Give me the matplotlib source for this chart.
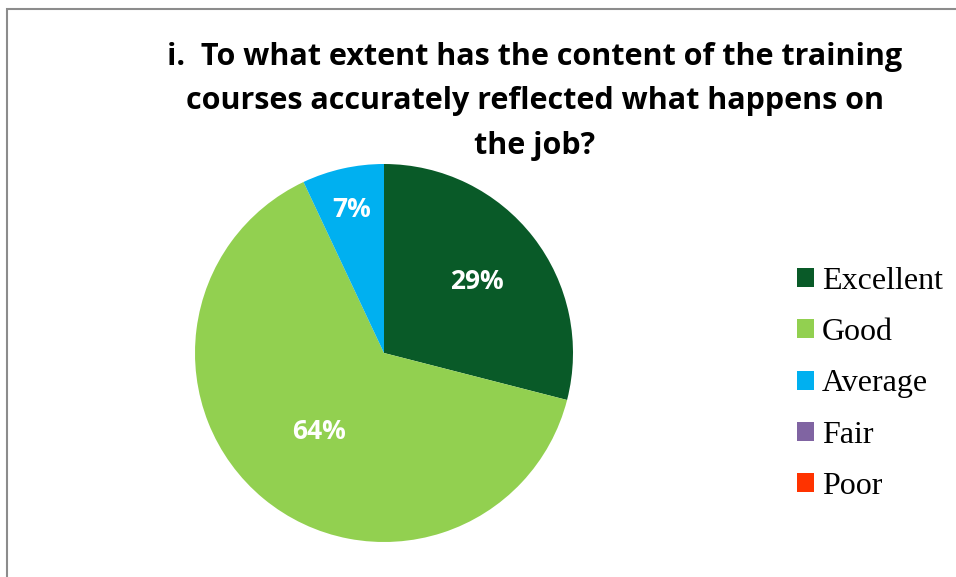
import numpy as np
import matplotlib.pyplot as plt
from matplotlib.patches import Rectangle

# --- Data ---
categories = ["Excellent", "Good", "Average", "Fair", "Poor"]
shares = [29, 64, 7, 0, 0]
colors = ["#095a28", "#92d050", "#00b0f0", "#8064a2", "#ff3300"]
# radial position of each percentage label (fraction of radius)
label_radius = [0.62, 0.54, 0.78, 0.6, 0.6]
title = ("i.  To what extent has the content of the training\n"
         "courses accurately reflected what happens on\n"
         "the job?")

W, H = 956, 577
fig = plt.figure(figsize=(W / 100, H / 100), dpi=100)

# outer chart frame (runs off the right/bottom edge like the source)
fig.patches.append(Rectangle((7 / W, -0.1), 1.2, (H - 9) / H + 0.1,
                             transform=fig.transFigure, fill=False,
                             edgecolor="#8c8c8c", linewidth=1.5))

# pie: centre (384, 353) px, radius ~189 px
r = 189
ax = fig.add_axes([(384 - r) / W, (H - 353 - r) / H, 2 * r / W, 2 * r / H])
wedges, texts, autotexts = ax.pie(
    shares, colors=colors, startangle=90, counterclock=False,
    autopct=lambda p: f"{p:.0f}%" if p > 0 else "",
    pctdistance=0.6, radius=1,
    wedgeprops=dict(edgecolor="none"),
    textprops=dict(color="white", fontsize=19, fontweight="bold",
                   family="Open Sans"))
ax.set_xlim(-1, 1)
ax.set_ylim(-1, 1)
ax.set_aspect("equal")

# reposition labels along each wedge's mid-angle
for w, t, rad in zip(wedges, autotexts, label_radius):
    mid = np.deg2rad((w.theta1 + w.theta2) / 2)
    t.set_position((rad * np.cos(mid), rad * np.sin(mid)))

fig.text(535 / W, 1 - 42 / H, title, ha="center", va="top",
         fontsize=22, fontweight="bold", family="Open Sans",
         linespacing=1.62)

leg = fig.legend(wedges, categories, loc="upper left",
                 bbox_to_anchor=(768 / W, 1 - 238 / H),
                 frameon=False, handlelength=0.53, handleheight=0.53,
                 handletextpad=0.25, labelspacing=0.7,
                 prop=dict(family="Liberation Serif", size=23))

fig.savefig("out.png", dpi=100)
